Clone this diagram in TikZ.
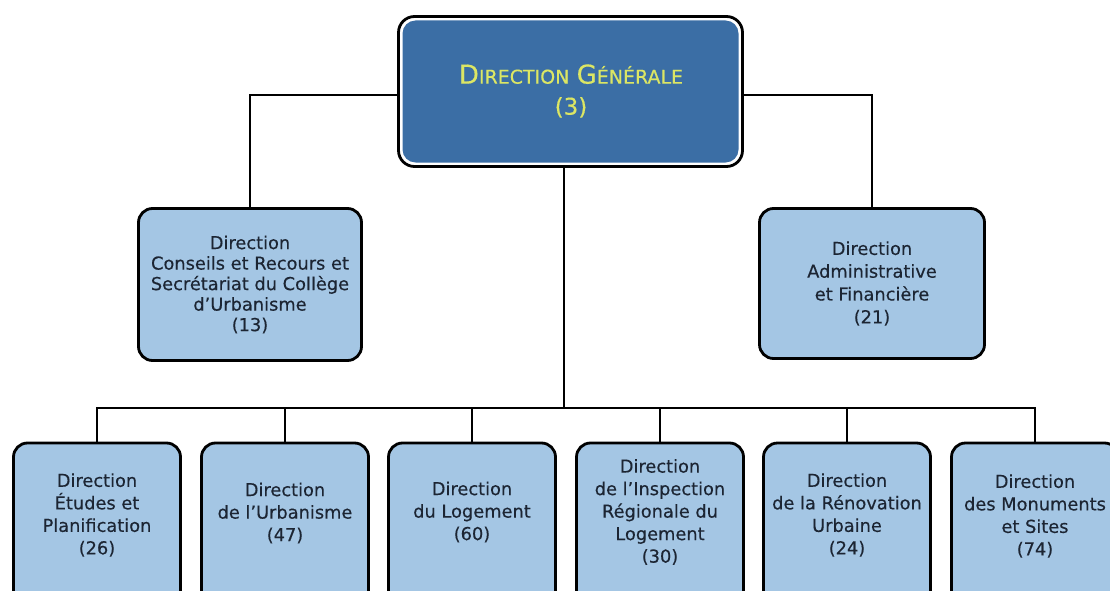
\documentclass[tikz,border=0pt]{standalone}
\usepackage{fontspec}
\setmainfont{DejaVu Sans}[FakeBold=0.35]
\definecolor{lightblue}{HTML}{A4C6E4}
\definecolor{topblue}{HTML}{3B6EA5}
\definecolor{titleyellow}{HTML}{DCE664}
\definecolor{txt}{HTML}{1C2533}
\newcommand{\bigc}[1]{{\fontsize{26}{31}\selectfont #1}}
\newcommand{\smc}[1]{{\fontsize{19}{31}\selectfont #1}}
\begin{document}
\begin{tikzpicture}[x=1pt,y=-1pt,
  box/.style={draw=black, line width=2.8pt, fill=lightblue, rounded corners=14pt, inner sep=0pt},
  btxt/.style={text=txt, align=center, font=\fontsize{17.8}{22.5}\selectfont, inner sep=0pt},
  conn/.style={draw=black, line width=2.6pt}]
\useasboundingbox (0,0) rectangle (1110,591);
\clip (0,0) rectangle (1110,591);

% top box
\node[draw=black, line width=2.8pt, fill=white, rounded corners=16pt,
      minimum width=344pt, minimum height=150pt, inner sep=0pt] (dg) at (570.5,91.5) {};
\node[fill=topblue, rounded corners=13pt, minimum width=336pt, minimum height=142pt, inner sep=0pt] (dgin) at (dg.center) {};
\node[text=titleyellow, align=center, inner sep=0pt, font=\fontsize{23}{31}\selectfont] (dgt) at (571,91)
  {\bigc{D}\smc{IRECTION} \bigc{G}\smc{ÉNÉRALE}\\(3)};

% middle boxes
\node[box, minimum width=223pt, minimum height=152pt] (cr) at (250,284.5) {};
\node[btxt, font=\fontsize{17.8}{20.5}\selectfont] (crt) at (cr.center)
  {Direction\\Conseils et Recours et\\Secrétariat du Collège\\d’Urbanisme\\(13)};
\node[box, minimum width=225pt, minimum height=150pt] (af) at (872,283.5) {};
\node[btxt, font=\fontsize{17.8}{22.8}\selectfont] (aft) at (af.center)
  {Direction\\Administrative\\et Financière\\(21)};

% bottom boxes
\foreach \n/\x in {b1/97,b2/285,b3/472,b4/660,b5/847,b6/1035}{
  \node[box, minimum width=167pt, minimum height=177pt] (\n) at (\x,531.5) {};
}
\node[btxt] (b1t) at (97,515) {Direction\\Études et\\Planification\\(26)};
\node[btxt] (b2t) at (285,513) {Direction\\de l’Urbanisme\\(47)};
\node[btxt] (b3t) at (472,512) {Direction\\du Logement\\(60)};
\node[btxt] (b4t) at (660,512) {Direction\\de l’Inspection\\Régionale du\\Logement\\(30)};
\node[btxt] (b5t) at (847,515) {Direction\\de la Rénovation\\Urbaine\\(24)};
\node[btxt] (b6t) at (1035,516) {Direction\\des Monuments\\et Sites\\(74)};

% connectors
\coordinate (bus) at (564,408);
\draw[conn] ([yshift=-3.5pt]dg.west) -| (cr.north);
\draw[conn] ([yshift=-3.5pt]dg.east) -| (af.north);
\draw[conn] (bus |- dg.south) -- (bus);
\draw[conn] (b1.north) -- (b1.north |- bus) -- (b6.north |- bus) -- (b6.north);
\foreach \n in {b2,b3,b4,b5}{
  \draw[conn] (\n.north) -- (\n.north |- bus);
}
\end{tikzpicture}
\end{document}
